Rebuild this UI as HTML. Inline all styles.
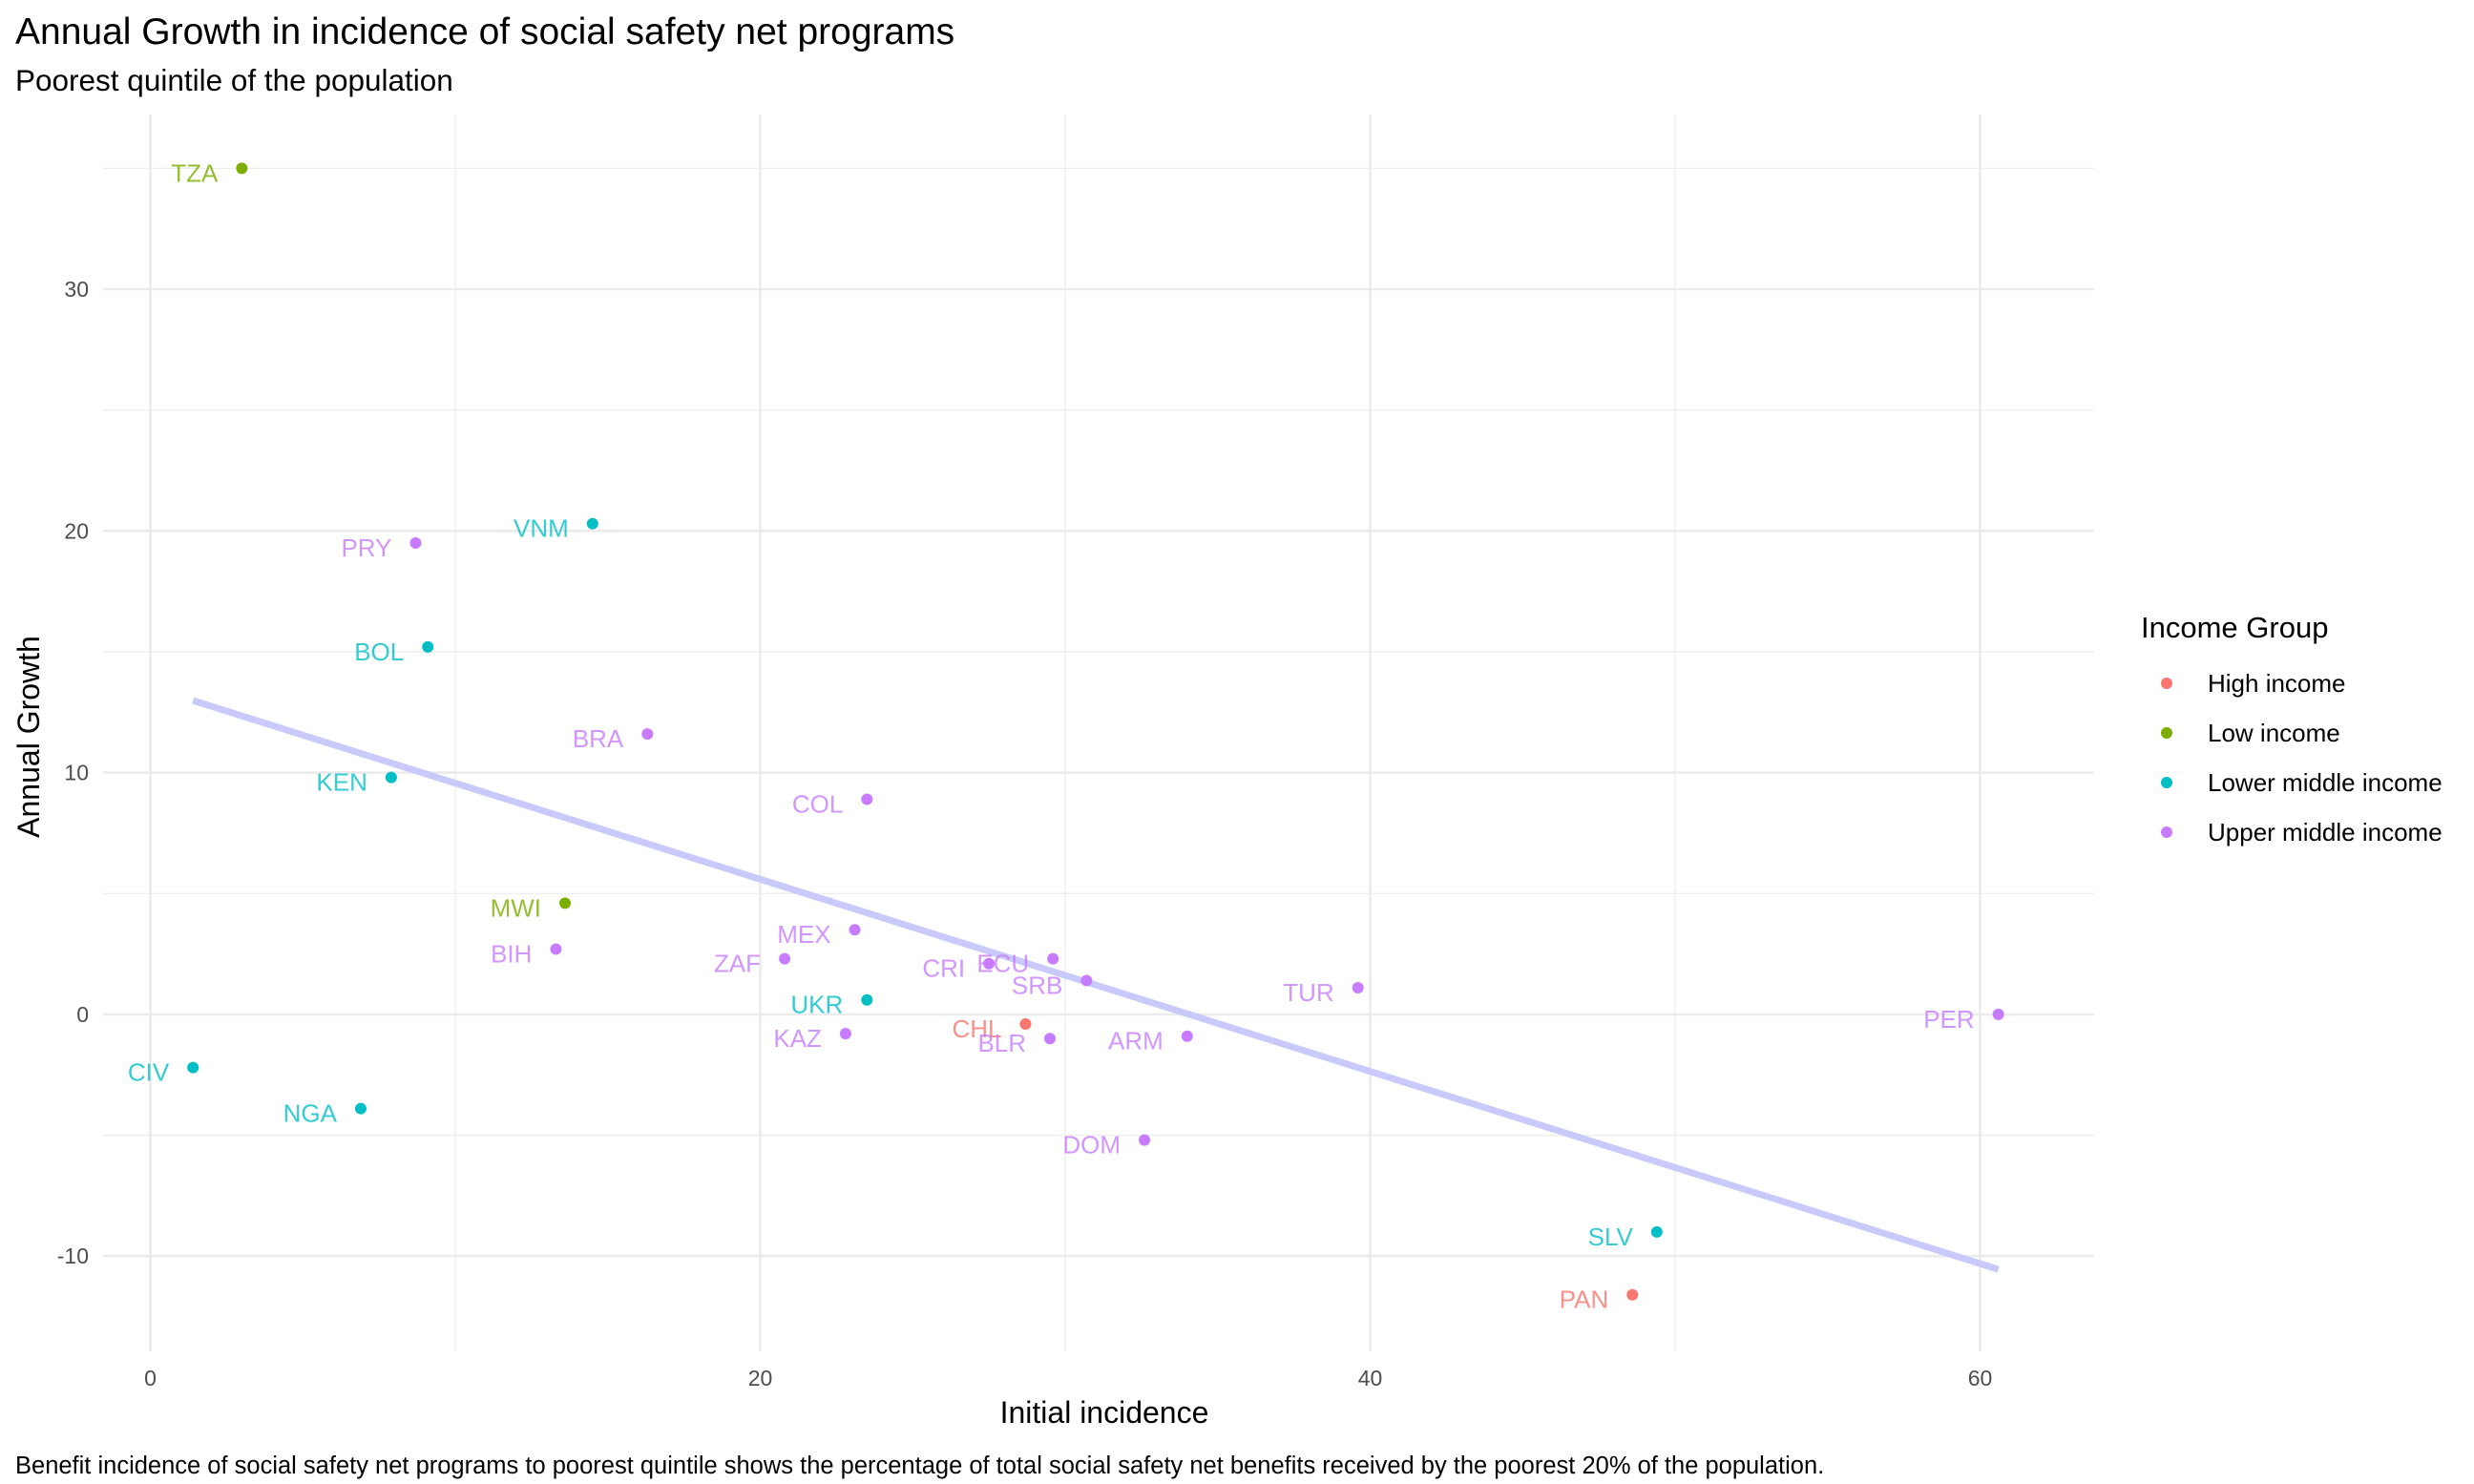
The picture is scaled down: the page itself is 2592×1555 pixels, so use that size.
<!DOCTYPE html>
<html><head><meta charset="utf-8"><style>
html,body{margin:0;padding:0;background:#fff}
svg{display:block;font-family:"Liberation Sans",sans-serif}
</style></head><body>
<svg width="2592" height="1555" viewBox="0 0 2592 1555">
<text x="16" y="46" font-size="39" fill="#000">Annual Growth in incidence of social safety net programs</text>
<text x="16" y="95" font-size="31.5" fill="#000">Poorest quintile of the population</text>
<g id="grid"></g>
<g id="axes"></g>
<line id="trend" stroke="#c9c9fb" stroke-width="7" stroke-linecap="butt"/>
<g id="marks"></g>
<text x="1157" y="1491" font-size="32" text-anchor="middle" fill="#000">Initial incidence</text>
<text transform="translate(41,772) rotate(-90)" font-size="32" text-anchor="middle" fill="#000">Annual Growth</text>
<text x="16" y="1544" font-size="25.5" fill="#000">Benefit incidence of social safety net programs to poorest quintile shows the percentage of total social safety net benefits received by the poorest 20% of the population.</text>
<g id="legend">
<text x="2243" y="668" font-size="31" fill="#000">Income Group</text>
</g>
</svg>
<script>
const codes=["TZA","VNM","PRY","BOL","BRA","KEN","COL","MWI","BIH","MEX","ZAF","CRI","ECU","SRB","UKR","TUR","PER","CHL","KAZ","BLR","ARM","CIV","NGA","DOM","SLV","PAN"];
const initialIncidence=[3.0,14.5,8.7,9.1,16.3,7.9,23.5,13.6,13.3,23.1,20.8,27.5,29.6,30.7,23.5,39.6,60.6,28.7,22.8,29.5,34.0,1.4,6.9,32.6,49.4,48.6];
const annualGrowth=[35.0,20.3,19.5,15.2,11.6,9.8,8.9,4.6,2.7,3.5,2.3,2.1,2.3,1.4,0.6,1.1,0.0,-0.4,-0.8,-1.0,-0.9,-2.2,-3.9,-5.2,-9.0,-11.6];
const groups=["Low","Lower","Upper","Lower","Upper","Lower","Upper","Low","Upper","Upper","Upper","Upper","Upper","Upper","Lower","Upper","Upper","High","Upper","Upper","Upper","Lower","Lower","Upper","Lower","High"];
const groupKeys=["High","Low","Lower","Upper"];
const groupLabels=["High income","Low income","Lower middle income","Upper middle income"];
const xTicks=[0,20,40,60];
const yTicks=[-10,0,10,20,30];
const xMinor=[10,30,50];
const yMinor=[-5,5,15,25,35];
const colors={High:"#F8766D",Low:"#7CAE00",Lower:"#00BFC4",Upper:"#C77CFF"};
const NS="http://www.w3.org/2000/svg";
const P={l:108,r:2194,t:120,b:1416};
const xs=v=>157.5+31.95*v;
const ys=v=>1062.9-25.33*v;
function mk(tag,attrs,parent){const e=document.createElementNS(NS,tag);for(const k in attrs)e.setAttribute(k,attrs[k]);parent.appendChild(e);return e;}
const grid=document.getElementById('grid'),axes=document.getElementById('axes'),marks=document.getElementById('marks'),legend=document.getElementById('legend');
xMinor.forEach(v=>{const l=mk('line',{x1:xs(v),x2:xs(v),y1:P.t,y2:P.b,stroke:'#ededed','stroke-width':1.3},grid);

});
yMinor.forEach(v=>{const l=mk('line',{x1:P.l,x2:P.r,y1:ys(v),y2:ys(v),stroke:'#ededed','stroke-width':1.3},grid);

});
xTicks.forEach(v=>{const l=mk('line',{x1:xs(v),x2:xs(v),y1:P.t,y2:P.b,stroke:'#ebebeb','stroke-width':2.6},grid);


const t=mk('text',{x:xs(v),y:1452,'font-size':23,'text-anchor':'middle',fill:'#4d4d4d'},axes);t.textContent=v;

});
yTicks.forEach(v=>{const l=mk('line',{x1:P.l,x2:P.r,y1:ys(v),y2:ys(v),stroke:'#ebebeb','stroke-width':2.6},grid);


const t=mk('text',{x:93,y:ys(v)+8,'font-size':23,'text-anchor':'end',fill:'#4d4d4d'},axes);t.textContent=v;

});
const n=initialIncidence.length;let mx=0,my=0;for(let i=0;i<n;i++){mx+=initialIncidence[i];my+=annualGrowth[i];}mx/=n;my/=n;
let sxy=0,sxx=0;for(let i=0;i<n;i++){sxy+=(initialIncidence[i]-mx)*(annualGrowth[i]-my);sxx+=(initialIncidence[i]-mx)**2;}
const b=sxy/sxx,a=my-b*mx;const x0=Math.min(...initialIncidence),x1=Math.max(...initialIncidence);
const tr=document.getElementById('trend');tr.setAttribute('x1',xs(x0));tr.setAttribute('y1',ys(a+b*x0));tr.setAttribute('x2',xs(x1));tr.setAttribute('y2',ys(a+b*x1));
codes.forEach((c,i)=>{const cx=xs(initialIncidence[i]),cy=ys(annualGrowth[i]),col=colors[groups[i]];
const p=mk('circle',{cx:cx,cy:cy,r:6,fill:col},marks);


const t=mk('text',{x:cx-25,y:cy+14,'font-size':26,'text-anchor':'end',fill:col,'fill-opacity':0.8},marks);t.textContent=c;

});
groupKeys.forEach((g,i)=>{const y=716+52*i;
const k=mk('circle',{cx:2270,cy:y,r:6,fill:colors[g]},legend);


const t=mk('text',{x:2313,y:y+9,'font-size':26,fill:'#000'},legend);t.textContent=groupLabels[i];

});
</script>
</body></html>
